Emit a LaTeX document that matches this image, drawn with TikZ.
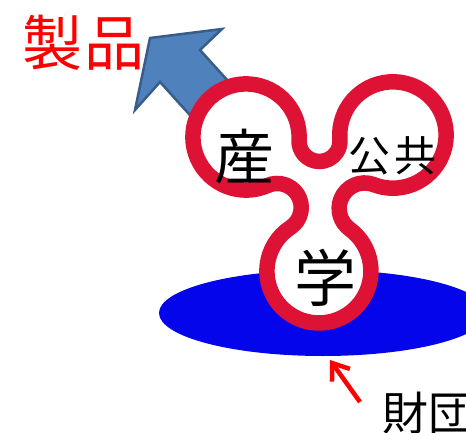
\documentclass[tikz,border=0pt]{standalone}
\usepackage{fontspec}
\newfontfamily\jp{Noto Sans CJK JP}
\usetikzlibrary{arrows.meta,shapes.geometric,calc}
\definecolor{ringred}{RGB}{222,18,52}
\definecolor{fundblue}{RGB}{5,5,235}
\definecolor{arrfill}{RGB}{79,129,189}
\definecolor{arrline}{RGB}{56,93,138}
\definecolor{prodred}{RGB}{255,0,0}
\begin{document}
\begin{tikzpicture}[x=1pt,y=-1pt,
  lbl/.style={inner sep=0pt, text=black},
  ring/.style={draw=ringred, line width=15.5pt, fill=white, line join=round},
  blockarrow/.style={fill=arrfill, draw=arrline, line width=2.5pt, line join=miter},
  fundarrow/.style={draw=prodred, line width=4.5pt, -{Straight Barb[length=15pt, width=22pt]}},
  fundshape/.style={ellipse, fill=fundblue, inner sep=0pt, minimum width=328pt, minimum height=86pt}]
\useasboundingbox (0,0) rectangle (466,433);
\clip (0,0) rectangle (466,433);
% foundation plate
\node[fundshape] (fund) at (323,313) {};
% product arrow
\draw[blockarrow] (150,38) -- (222,29) -- (200,50) -- (233.5,87) -- (193.5,119) -- (160,82) -- (135,110) -- cycle;
% trefoil
\coordinate (A) at (246,137);
\path[ring] ($(A)+(66.03:53.1)$)
  arc[start angle=66.03, end angle=363.11, radius=53.1]
  arc[start angle=183.11, end angle=-4.67, radius=20.5]
  arc[start angle=175.33, end angle=471.06, radius=53.2]
  arc[start angle=-68.94, end angle=-233.83, radius=25.5]
  arc[start angle=-53.83, end angle=236.75, radius=52]
  arc[start angle=56.75, end angle=-113.97, radius=24] -- cycle;
% labels
\node[lbl, text=prodred, font=\jp\fontsize{60}{60}\selectfont] (prod) at (83.5,42.5) {製\kern3pt品};
\node[lbl, font=\jp\fontsize{60}{60}\selectfont] (ind) at (244,156.5) {産};
\node[lbl, font=\jp\fontsize{42}{42}\selectfont] (pub) at (392.5,156) {公\kern4pt共};
\node[lbl, font=\jp\fontsize{62}{62}\selectfont] (aca) at (325,277.5) {学};
\node[lbl, font=\jp\fontsize{46}{46}\selectfont] (zaidan) at (428,413) {財団};
% arrow to foundation
\coordinate (ftail) at (360,402);
\coordinate (ftip) at (330,360);
\draw[fundarrow] (ftail) -- (ftip);
\end{tikzpicture}
\end{document}
